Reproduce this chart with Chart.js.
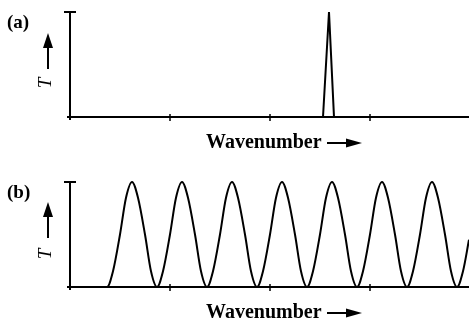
<!DOCTYPE html>
<html>
<head>
<meta charset="utf-8">
<script src="https://cdn.jsdelivr.net/npm/chart.js@4/dist/chart.umd.min.js"></script>
<style>
  body { margin: 0; background: #fff; }
  .panel { position: absolute; left: 0; width: 469px; }
  #boxA { top: 0; height: 170px; }
  #boxB { top: 170px; height: 153px; }
</style>
</head>
<body>
<div class="panel" id="boxA"><canvas id="chartA"></canvas></div>
<div class="panel" id="boxB"><canvas id="chartB"></canvas></div>
<script>
// (a) single narrow transmission peak
const peakX = [0, 2.53, 2.59, 2.64, 3.99];
const peakT = [0, 0, 1, 0, 0];

// (b) periodic transmission (fringes)
const waveX = [0, 0.37, 0.43, 0.50, 0.56, 0.62, 0.68, 0.75, 0.81,
               0.87, 0.93, 1.00, 1.06, 1.12, 1.18, 1.25, 1.31,
               1.37, 1.43, 1.50, 1.56, 1.62, 1.68, 1.75, 1.81,
               1.87, 1.93, 2.00, 2.06, 2.12, 2.18, 2.25, 2.31,
               2.37, 2.43, 2.50, 2.56, 2.62, 2.68, 2.75, 2.81,
               2.87, 2.93, 3.00, 3.06, 3.12, 3.18, 3.25, 3.31,
               3.37, 3.43, 3.50, 3.56, 3.62, 3.68, 3.75, 3.81,
               3.87, 3.93, 3.99];
const waveT = [0, 0, 0.15, 0.5, 0.85, 1, 0.85, 0.5, 0.15,
               0, 0.15, 0.5, 0.85, 1, 0.85, 0.5, 0.15,
               0, 0.15, 0.5, 0.85, 1, 0.85, 0.5, 0.15,
               0, 0.15, 0.5, 0.85, 1, 0.85, 0.5, 0.15,
               0, 0.15, 0.5, 0.85, 1, 0.85, 0.5, 0.15,
               0, 0.15, 0.5, 0.85, 1, 0.85, 0.5, 0.15,
               0, 0.15, 0.5, 0.85, 1, 0.85, 0.5, 0.15,
               0, 0.15, 0.45];

const xTicks = [1, 2, 3];
const xTitle = 'Wavenumber';
const yTitle = 'T';

const serif = "'Liberation Serif', 'DejaVu Serif', serif";

// draws the bare axes, tick marks, labels and arrows like the book figure
const figureAxes = {
    id: 'figureAxes',
    beforeDatasetsDraw(chart, args, opts) {
        const ctx = chart.ctx;
        const area = chart.chartArea;
        const xs = chart.scales.x;
        const left = area.left, top = area.top, bottom = area.bottom, right = area.right;

        ctx.save();
        ctx.strokeStyle = '#000';
        ctx.fillStyle = '#000';
        ctx.lineWidth = 2;

        // y axis with cap
        ctx.beginPath();
        ctx.moveTo(left, top);
        ctx.lineTo(left, bottom + 3);
        ctx.moveTo(left - 6, top);
        ctx.lineTo(left + 6, top);
        // x axis
        ctx.moveTo(left - 3, bottom);
        ctx.lineTo(right, bottom);
        ctx.stroke();

        ctx.lineWidth = 1.5;
        ctx.beginPath();
        xTicks.forEach(v => {
            const px = Math.round(xs.getPixelForValue(v));
            ctx.moveTo(px, bottom - 3);
            ctx.lineTo(px, bottom + 4);
        });
        ctx.stroke();

        // panel label
        ctx.font = 'bold 19px ' + serif;
        ctx.textAlign = 'left';
        ctx.textBaseline = 'alphabetic';
        ctx.fillText(opts.label, 7, top + 16);

        // rotated T with arrow
        ctx.save();
        ctx.translate(46, top + opts.tY);
        ctx.rotate(-Math.PI / 2);
        ctx.font = 'italic 19px ' + serif;
        ctx.textAlign = 'center';
        ctx.textBaseline = 'middle';
        ctx.fillText(yTitle, 0, 0);
        ctx.restore();

        const ax = 48, tip = top + opts.arrowTip;
        ctx.lineWidth = 2;
        ctx.beginPath();
        ctx.moveTo(ax, tip + 12);
        ctx.lineTo(ax, tip + 36);
        ctx.stroke();
        ctx.beginPath();
        ctx.moveTo(ax, tip);
        ctx.lineTo(ax - 5, tip + 15);
        ctx.lineTo(ax + 5, tip + 15);
        ctx.closePath();
        ctx.fill();

        // x title with arrow
        ctx.font = 'bold 20px ' + serif;
        ctx.textAlign = 'left';
        ctx.fillText(xTitle, 206, bottom + 31);
        const ay = bottom + 26;
        ctx.beginPath();
        ctx.moveTo(327, ay);
        ctx.lineTo(350, ay);
        ctx.stroke();
        ctx.beginPath();
        ctx.moveTo(362, ay);
        ctx.lineTo(346, ay - 4.5);
        ctx.lineTo(346, ay + 4.5);
        ctx.closePath();
        ctx.fill();

        ctx.restore();
    }
};

function makeChart(id, xVals, yVals, label, padBottom, smooth, tY, arrowTip) {
    const points = xVals.map((x, i) => ({ x: x, y: yVals[i] }));
    return new Chart(document.getElementById(id), {
        type: 'line',
        data: {
            datasets: [{
                data: points,
                borderColor: '#000',
                borderWidth: 2,
                pointRadius: 0,
                fill: false,
                tension: 0,
                cubicInterpolationMode: smooth ? 'monotone' : 'default',
                clip: false
            }]
        },
        options: {
            responsive: true,
            maintainAspectRatio: false,
            animation: false,
            layout: { padding: { left: 70, top: 12, right: 0, bottom: padBottom } },
            scales: {
                x: { type: 'linear', min: 0, max: 3.99, display: false },
                y: { min: 0, max: 1, display: false }
            },
            plugins: {
                legend: { display: false },
                tooltip: { enabled: false },
                figureAxes: { label: label, tY: tY, arrowTip: arrowTip }
            }
        },
        plugins: [figureAxes]
    });
}

const chartA = makeChart('chartA', peakX, peakT, '(a)', 53, false, 71, 21);
const chartB = makeChart('chartB', waveX, waveT, '(b)', 36, true, 72, 20);
</script>
</body>
</html>
